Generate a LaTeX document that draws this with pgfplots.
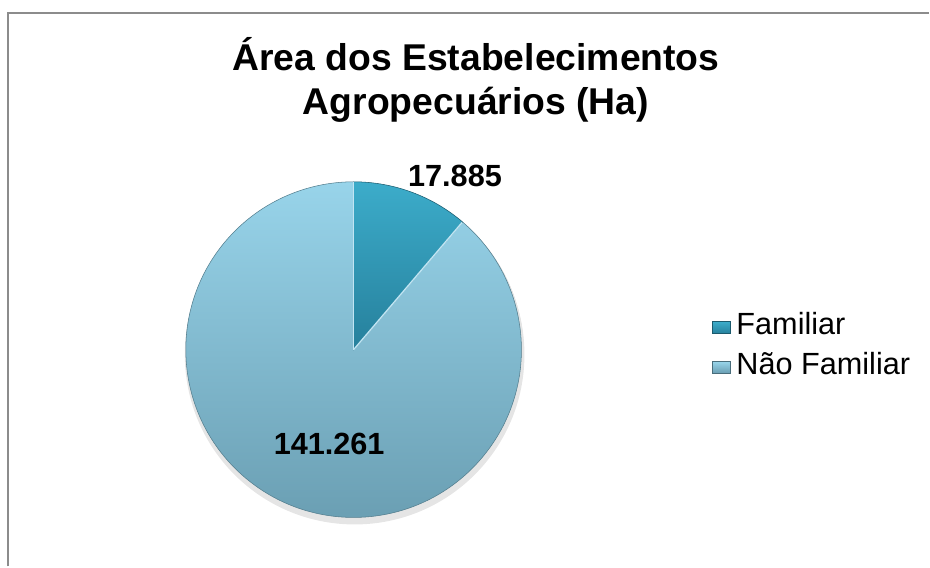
\documentclass[border=0pt]{standalone}
\usepackage{pgfplots}
\pgfplotsset{compat=1.18}
\usepackage{pgfplotstable}
\usepackage{fontspec}
\setmainfont{Liberation Sans}
\definecolor{famTop}{RGB}{60,172,202}
\definecolor{famBot}{RGB}{38,128,156}
\definecolor{nfTop}{RGB}{152,212,234}
\definecolor{nfBot}{RGB}{104,156,176}
\definecolor{frame}{RGB}{140,140,140}

% values in hectares (thousands separated by '.')
\pgfplotstableread{
label value
Familiar 17885
NaoFamiliar 141261
}\piedata
\pgfplotstablegetelem{0}{value}\of\piedata \let\vFam\pgfplotsretval
\pgfplotstablegetelem{1}{value}\of\piedata \let\vNF\pgfplotsretval
\edef\angFam{\fpeval{360*\vFam/(\vFam+\vNF)}}
\edef\endFam{\fpeval{round(90-\angFam,4)}}

\begin{document}
\begin{tikzpicture}
\begin{axis}[
  width=697.5pt, height=425.25pt, scale only axis,
  xmin=0, xmax=930, ymin=0, ymax=567,
  hide axis, clip=false,
]
% fix the picture's extent to the full chart area
\path (0,0) rectangle (930,567);
% frame (chart area border, bottom cut off)
\draw[frame, line width=1.5pt] (8,0) -- (8,553.5) -- (930,553.5);

% title
\node[anchor=base, font=\bfseries\fontsize{28}{33}\selectfont] at (476.5,496) {Área dos Estabelecimentos};
\node[anchor=base, font=\bfseries\fontsize{28}{33}\selectfont] at (476.5,452) {Agropecuários (Ha)};

% soft shadow
\fill[black!18] (355,214) circle[radius=127pt];
\fill[black!10] (355,212) circle[radius=127.5pt];

% Não Familiar slice
\shade[top color=nfTop, bottom color=nfBot, draw=nfBot!80!black, line width=0.4pt]
  (354,217) -- ++(\endFam:126pt) arc[start angle=\endFam, end angle=-270, radius=126pt] -- cycle;
% Familiar slice
\shade[top color=famTop, bottom color=famBot, draw=famBot!70!black, line width=0.4pt]
  (354,217) -- ++(90:126pt) arc[start angle=90, end angle=\endFam, radius=126pt] -- cycle;
% light edge between slices
\draw[nfTop!60!white, line width=1pt] (354,217) -- ++(\endFam:125.5pt);
\draw[nfTop!60!white, line width=1pt] (354,217) -- ++(90:125.5pt);

% data labels
\node[anchor=base, font=\bfseries\fontsize{23}{27}\selectfont] at (455.5,380) {17.885};
\node[anchor=base, font=\bfseries\fontsize{23}{27}\selectfont] at (329.5,112) {141.261};

% legend
\shade[top color=famTop, bottom color=famBot, draw=famBot!70!black, line width=0.3pt] (713,233) rectangle (731,245);
\node[anchor=base west, inner sep=0pt, font=\fontsize{23}{27}\selectfont] at (737,232) {Familiar};
\shade[top color=nfTop, bottom color=nfBot, draw=nfBot!70!black, line width=0.3pt] (713,193) rectangle (731,205);
\node[anchor=base west, inner sep=0pt, font=\fontsize{23}{27}\selectfont] at (737,192) {Não Familiar};
\end{axis}
\end{tikzpicture}
\end{document}
